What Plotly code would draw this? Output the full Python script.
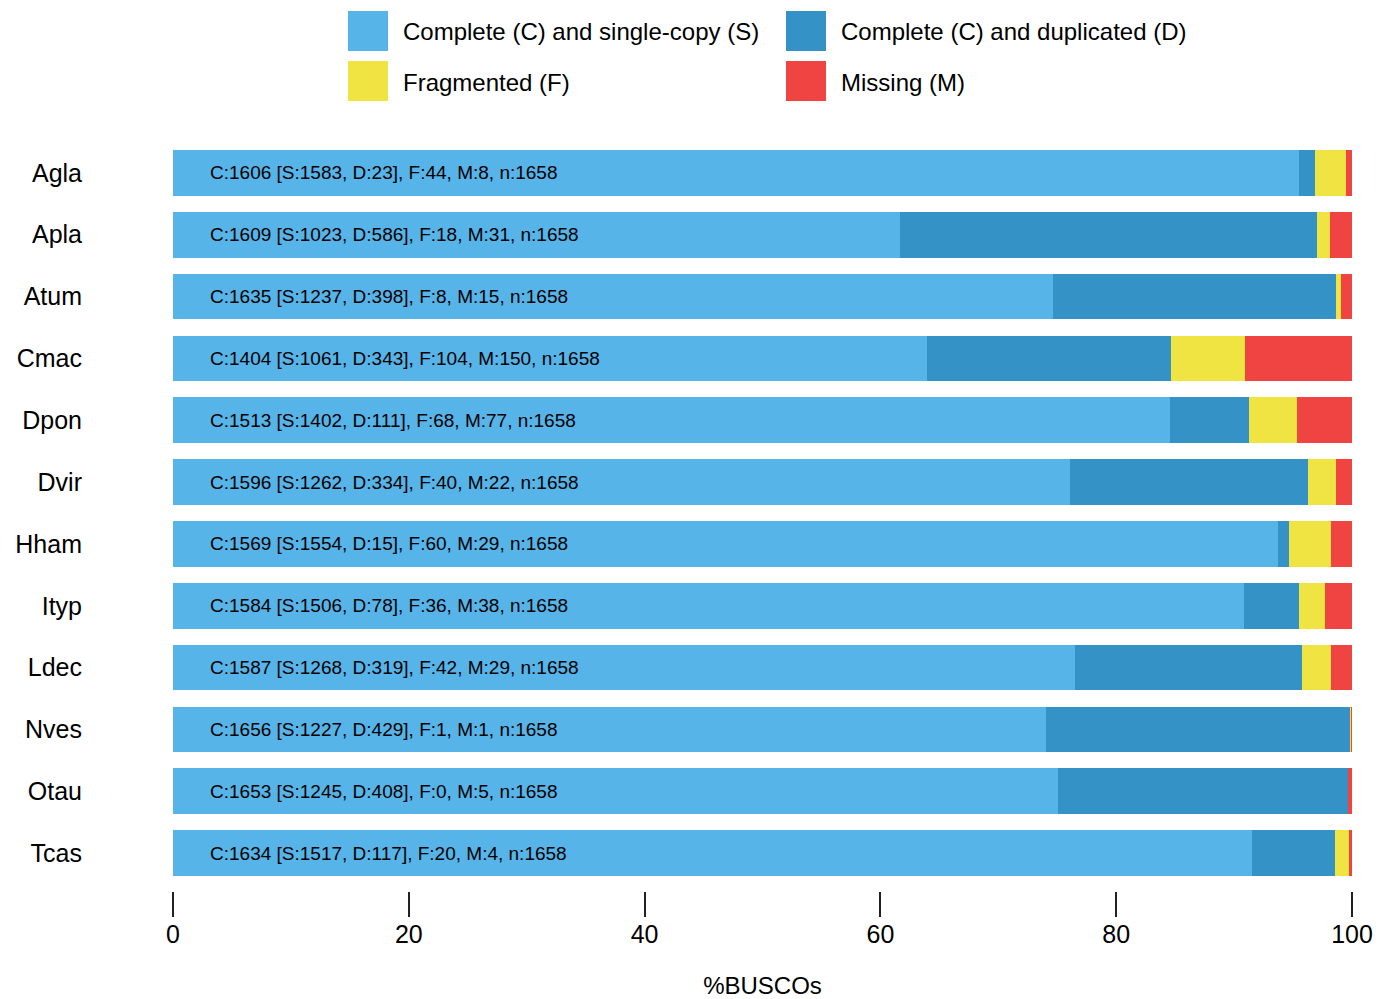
import plotly.graph_objects as go

species = ["Agla", "Apla", "Atum", "Cmac", "Dpon", "Dvir", "Hham", "Ityp", "Ldec", "Nves", "Otau", "Tcas"]
single = [1583, 1023, 1237, 1061, 1402, 1262, 1554, 1506, 1268, 1227, 1245, 1517]
dup = [23, 586, 398, 343, 111, 334, 15, 78, 319, 429, 408, 117]
frag = [44, 18, 8, 104, 68, 40, 60, 36, 42, 1, 0, 20]
miss = [8, 31, 15, 150, 77, 22, 29, 38, 29, 1, 5, 4]
n_total = 1658

series_names = ["Complete (C) and single-copy (S)", "Complete (C) and duplicated (D)",
                "Fragmented (F)", "Missing (M)"]
colors = ["#56B4E9", "#3492C7", "#F0E442", "#F04442"]
xticks = [0, 20, 40, 60, 80, 100]

FONT = "Liberation Sans, Arial, Helvetica, sans-serif"

fig = go.Figure()
for name, vals, col in zip(series_names, [single, dup, frag, miss], colors):
    fig.add_trace(go.Bar(
        y=species, x=[v / n_total * 100 for v in vals], name=name, orientation="h",
        marker=dict(color=col, line=dict(width=0)), showlegend=False,
        hoverinfo="x+y",
    ))

annotations = []
for sp, s, d, f, m in zip(species, single, dup, frag, miss):
    annotations.append(dict(
        x=3, y=sp, xref="x", yref="y", xanchor="left", yanchor="middle",
        text=f"C:{s + d} [S:{s}, D:{d}], F:{f}, M:{m}, n:{n_total}",
        showarrow=False, font=dict(family=FONT, size=19, color="#000000"),
    ))

# manual legend (2 x 2 grid), positions in pixels converted to paper coords
W, H = 1391, 999
ml, mr, mt, mb = 173, 39, 135, 108
pw, ph = W - ml - mr, H - mt - mb

def px_x(x):
    return (x - ml) / pw

def px_y(y):
    return 1 - (y - mt) / ph

shapes = []
legend_pos = [(348, 11), (786, 11), (348, 61), (786, 61)]
for (lx, ly), name, col in zip(legend_pos, series_names, colors):
    shapes.append(dict(type="rect", xref="paper", yref="paper",
                       x0=px_x(lx), x1=px_x(lx + 40), y0=px_y(ly + 40), y1=px_y(ly),
                       fillcolor=col, line=dict(width=0)))
    annotations.append(dict(x=px_x(lx + 53), y=px_y(ly + 21), xref="paper", yref="paper",
                            xanchor="left", yanchor="middle", text=name, showarrow=False,
                            font=dict(family=FONT, size=24, color="#000000")))

fig.update_layout(
    barmode="stack",
    bargap=0.26,
    width=W, height=H,
    margin=dict(l=ml, r=mr, t=mt, b=mb, autoexpand=False),
    paper_bgcolor="white", plot_bgcolor="white",
    font=dict(family=FONT, color="#000000"),
    shapes=shapes,
    annotations=annotations,
    xaxis=dict(
        range=[0, 100], tickvals=xticks, ticktext=[str(t) for t in xticks],
        ticks="outside", ticklen=25, tickwidth=2, tickcolor="#222222",
        ticklabelstandoff=-4, automargin=False,
        showgrid=False, zeroline=False, showline=False,
        tickfont=dict(family=FONT, size=25, color="#000000"),
        title=dict(text="%BUSCOs", font=dict(family=FONT, size=24, color="#000000"), standoff=32),
    ),
    yaxis=dict(
        categoryorder="array", categoryarray=species,
        range=[11.613, -0.613], autorange=False, automargin=False,
        showgrid=False, zeroline=False, showline=False, ticks="",
        ticklabelstandoff=90,
        tickfont=dict(family=FONT, size=25, color="#000000"),
    ),
)

fig.write_html("out.html")
